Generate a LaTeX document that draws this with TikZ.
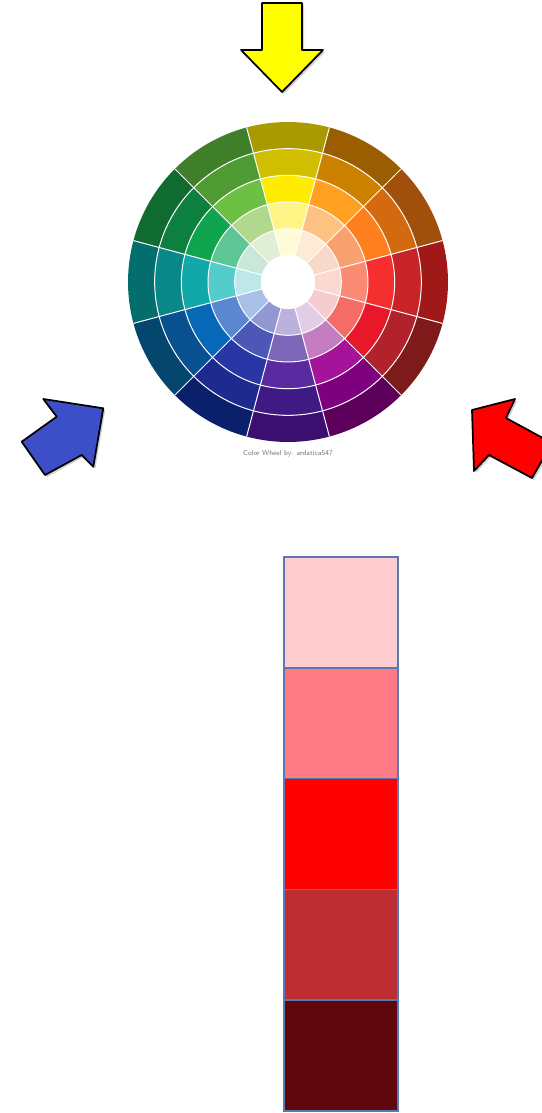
\documentclass[tikz,border=0pt]{standalone}
\usetikzlibrary{calc}
\definecolor{swatchline}{HTML}{5A78B4}
\definecolor{arrowyellow}{HTML}{FFFF00}
\definecolor{arrowblue}{HTML}{3D4FC8}
\definecolor{arrowred}{HTML}{FF0000}
\definecolor{sw1}{HTML}{FFCCD0}
\definecolor{sw2}{HTML}{FF7A85}
\definecolor{sw3}{HTML}{FF0000}
\definecolor{sw4}{HTML}{BE2D32}
\definecolor{sw5}{HTML}{5E080D}
\tikzset{
  bigarrow/.style={draw=black, line width=1.3pt, line join=round},
  arrowshadow/.style={fill=black, opacity=0.18},
  swatch/.style={draw=swatchline, line width=1.1pt, minimum width=85.5pt, minimum height=83.1pt, inner sep=0pt, outer sep=0pt},
  divider/.style={draw=white, line width=0.75pt},
  credit/.style={font=\fontsize{5.3}{6}\selectfont\sffamily, text=black!55, inner sep=0pt}
}
\begin{document}
\begin{tikzpicture}[x=0.75pt, y=-0.75pt]
\useasboundingbox (0,0) rectangle (542,1113);
\clip (0,0) rectangle (542,1113);
\fill[white] (0,0) rectangle (542,1113);

% ---------- colour wheel ----------
\begin{scope}[shift={(288,282)}, yscale=-1]
\foreach \a/\co/\cd/\cp/\cl/\ci in {
  90/A89A00/D2BE00/FFEC00/FFF486/FEFBD8,
  120/3F7F2A/4F9B33/6DC043/B1D98D/E0EED5,
  150/0F6B30/0D8040/0FA54E/5EC597/C9E8D9,
  180/046E6E/088888/13A8A8/55CCCC/BDE7EA,
  210/05466F/08508F/0768B8/5A87D0/A8C0E5,
  240/0A206A/1E2A8E/2937A6/4D57B5/9197D0,
  270/3A0F70/3F1A85/5A2BA0/7F67B8/BCB0DC,
  300/5C005C/7E007E/A5139A/C37DC0/E2CDE6,
  330/7F1A1A/B2222A/E8182A/F56B66/F6CDCE,
  0/A01818/C82428/F52E2E/FA8A72/FBD9D0,
  30/A0500A/D46A10/FF7E1E/F8A070/F8D8C8,
  60/9A5E00/CC8200/FFA020/FDC282/FDEBD5}{
  \pgfmathsetmacro\sa{\a-15}
  \pgfmathsetmacro\ea{\a+15}
  \definecolor{ringA}{HTML}{\ci}
  \definecolor{ringB}{HTML}{\cl}
  \definecolor{ringC}{HTML}{\cp}
  \definecolor{ringD}{HTML}{\cd}
  \definecolor{ringE}{HTML}{\co}
  \fill[ringA] (\sa:26.667) arc[start angle=\sa, end angle=\ea, radius=26.667] -- (\ea:53.333) arc[start angle=\ea, end angle=\sa, radius=53.333] -- cycle;
  \fill[ringB] (\sa:53.333) arc[start angle=\sa, end angle=\ea, radius=53.333] -- (\ea:80) arc[start angle=\ea, end angle=\sa, radius=80] -- cycle;
  \fill[ringC] (\sa:80) arc[start angle=\sa, end angle=\ea, radius=80] -- (\ea:106.667) arc[start angle=\ea, end angle=\sa, radius=106.667] -- cycle;
  \fill[ringD] (\sa:106.667) arc[start angle=\sa, end angle=\ea, radius=106.667] -- (\ea:133.333) arc[start angle=\ea, end angle=\sa, radius=133.333] -- cycle;
  \fill[ringE] (\sa:133.333) arc[start angle=\sa, end angle=\ea, radius=133.333] -- (\ea:160) arc[start angle=\ea, end angle=\sa, radius=160] -- cycle;
}
\foreach \r in {26.667,53.333,80,106.667,133.333}{
  \draw[divider] (0,0) circle[radius=\r];
}
\foreach \b in {15,45,...,345}{
  \draw[divider] (\b:26.667) -- (\b:160);
}
\end{scope}
\node[credit] (credit) at (288,454) {Color Wheel by: ardatica547};

% ---------- arrows ----------
% yellow (pointing down)
\fill[arrowshadow] ($(262,3)+(2,2)$) -- ($(262,50)+(2,2)$) -- ($(241,50)+(2,2)$) -- ($(282,92)+(2,2)$) -- ($(323,50)+(2,2)$) -- ($(302,50)+(2,2)$) -- ($(302,3)+(2,2)$) -- cycle;
\filldraw[bigarrow, fill=arrowyellow] (262,3) -- (262,50) -- (241,50) -- (282,92) -- (323,50) -- (302,50) -- (302,3) -- cycle;
% blue (pointing up-right)
\fill[arrowshadow] ($(103.3,408.3)+(2,2)$) -- ($(43.3,399)+(2,2)$) -- ($(56.7,416.7)+(2,2)$) -- ($(21.7,441.7)+(2,2)$) -- ($(45,475)+(2,2)$) -- ($(81.7,455)+(2,2)$) -- ($(93.3,466.7)+(2,2)$) -- cycle;
\filldraw[bigarrow, fill=arrowblue] (103.3,408.3) -- (43.3,399) -- (56.7,416.7) -- (21.7,441.7) -- (45,475) -- (81.7,455) -- (93.3,466.7) -- cycle;
% red (pointing up-left)
\fill[arrowshadow] ($(472,410)+(2,2)$) -- ($(515,399)+(2,2)$) -- ($(506,418)+(2,2)$) -- ($(552,443)+(2,2)$) -- ($(532,478)+(2,2)$) -- ($(489,455)+(2,2)$) -- ($(474,471)+(2,2)$) -- cycle;
\filldraw[bigarrow, fill=arrowred] (472,410) -- (515,399) -- (506,418) -- (552,443) -- (532,478) -- (489,455) -- (474,471) -- cycle;

% ---------- swatch column ----------
\node[swatch, fill=sw1] (s1) at (341,612.4) {};
\node[swatch, fill=sw2] (s2) at (341,723.2) {};
\node[swatch, fill=sw3] (s3) at (341,834.0) {};
\node[swatch, fill=sw4] (s4) at (341,944.8) {};
\node[swatch, fill=sw5] (s5) at (341,1055.6) {};
\end{tikzpicture}
\end{document}
